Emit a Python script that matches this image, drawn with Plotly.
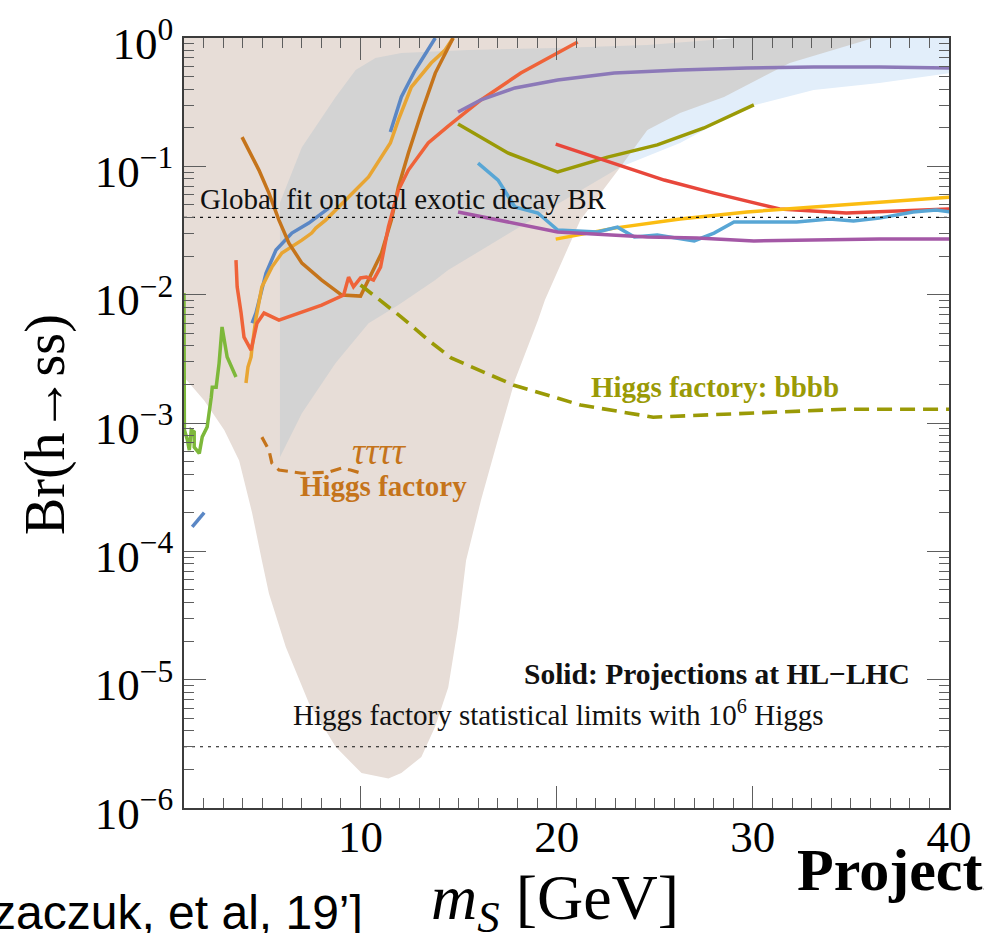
import plotly.graph_objects as go
import numpy as np

# ---------------- data: exclusion / projection curves, Br(h -> ss) vs m_S [GeV] ----------------

# shaded theory regions
beige_x = [1.0, 1.0, 2.03, 3.05, 3.81, 4.47, 4.97, 5.33, 6.19, 7.36, 8.73, 10.05, 11.42, 12.08,
           13.1, 13.8, 14.47, 14.97, 15.38, 16.14, 17.0, 17.87, 19.04, 19.4, 21.2, 23.25, 26.1, 28.2]
beige_y = [1.0, 2.28e-3, 1.5e-3, 8.8e-4, 5.1e-4, 2.0e-4, 8.5e-5, 4.7e-5, 1.8e-5, 6.6e-6, 3.0e-6,
           1.87e-6, 1.7e-6, 1.87e-6, 2.5e-6, 4.3e-6, 8.7e-6, 2.57e-5, 8.5e-5, 2.5e-4, 7.4e-4,
           2.15e-3, 6.3e-3, 9.1e-3, 3.8e-2, 9.9e-2, 0.33, 1.0]

lightblue_x = [23.25, 26.29, 29.70, 33.1, 36.45, 40.1, 40.1, 34.77, 27.16, 24.11]
lightblue_y = [0.0988, 0.152, 0.29, 0.393, 0.446, 0.534, 1.0, 1.0, 0.471, 0.16]

gray_x = [5.89, 5.89, 7.01, 8.73, 9.75, 10.76, 12.08, 15.48, 20.05, 24.62, 29.19, 36.14, 31.88,
          28.53, 26.29, 24.62, 23.25, 20.05, 14.47, 13.81, 11.93, 10.41, 8.73, 7.01]
gray_y = [5.4e-4, 5.2e-2, 0.141, 0.347, 0.563, 0.698, 0.764, 0.806, 0.836, 0.882, 1.0, 1.0, 0.638,
          0.347, 0.26, 0.192, 0.0988, 0.0508, 0.01555, 0.013, 8.3e-3, 6.0e-3, 2.93e-3, 1.19e-3]

# solid HL-LHC projections
green_x = [1.0, 1.02, 1.17, 1.27, 1.37, 1.52, 1.52, 1.78, 1.93, 2.18, 2.39, 2.44, 2.64, 2.79, 2.94, 3.20, 3.65]
green_y = [1.03e-2, 8.8e-4, 7.4e-4, 6.15e-4, 8.8e-4, 8.5e-4, 6.5e-4, 5.8e-4, 7.8e-4, 9.3e-4,
           1.59e-3, 1.9e-3, 1.9e-3, 2.93e-3, 5.6e-3, 3.27e-3, 2.28e-3]

blue_low_x = [1.42, 2.03]
blue_low_y = [1.55e-4, 2.0e-4]

blue_a_x = [4.47, 4.67, 5.18, 5.69, 6.50, 7.36, 8.38]
blue_a_y = [6.0e-3, 7.2e-3, 1.47e-2, 2.23e-2, 3.02e-2, 3.61e-2, 4.73e-2]

blue_b_x = [11.52, 12.08, 12.79, 13.45, 13.81]
blue_b_y = [0.185, 0.347, 0.563, 0.806, 1.0]

gold_x = [4.16, 4.26, 4.42, 4.47, 4.67, 4.97, 5.48, 5.99, 7.01, 7.51, 7.72, 8.22, 9.24, 10.41,
          11.52, 11.93, 12.59, 13.60, 14.31, 14.72]
gold_y = [2.05e-3, 2.73e-3, 3.27e-3, 3.9e-3, 6.57e-3, 1.15e-2, 1.64e-2, 2.11e-2, 2.66e-2, 3.02e-2,
          3.3e-2, 3.81e-2, 5.46e-2, 8.26e-2, 0.152, 0.23, 0.415, 0.638, 0.806, 1.0]

brown_x = [3.96, 4.82, 5.33, 5.84, 6.35, 7.01, 8.02, 9.04, 10.0, 10.56, 11.07, 11.57, 11.93,
           12.44, 13.1, 13.81, 14.47, 14.72]
brown_y = [0.169, 9.35e-2, 6.19e-2, 3.81e-2, 2.52e-2, 1.76e-2, 1.30e-2, 9.93e-3, 9.75e-3, 1.47e-2,
           2.11e-2, 3.81e-2, 6.9e-2, 0.127, 0.26, 0.533, 0.851, 1.0]

tomato_x = [3.65, 3.71, 3.91, 4.06, 4.42, 4.72, 5.08, 5.84, 8.02, 9.14, 9.39, 9.64, 10.0, 10.30,
            10.66, 11.02, 11.42, 11.93, 12.44, 13.45, 14.47, 16.14, 18.17, 20.05, 21.07]
tomato_y = [1.86e-2, 1.15e-2, 7.19e-3, 4.67e-3, 3.70e-3, 6.0e-3, 7.19e-3, 6.34e-3, 8.3e-3, 9.93e-3,
            1.37e-2, 1.15e-2, 1.35e-2, 1.37e-2, 1.30e-2, 1.64e-2, 3.37e-2, 6.53e-2, 9.35e-2, 0.152,
            0.206, 0.329, 0.533, 0.764, 0.93]

purple_x = [14.97, 16.14, 17.87, 20.05, 22.94, 26.29, 29.70, 33.1, 36.45, 40.1]
purple_y = [0.265, 0.329, 0.408, 0.471, 0.533, 0.563, 0.583, 0.594, 0.594, 0.583]

olive_x = [14.97, 17.51, 20.05, 22.59, 25.13, 27.51, 30.05]
olive_y = [0.214, 0.127, 0.0903, 0.118, 0.147, 0.199, 0.301]

red_x = [19.95, 22.94, 25.48, 28.02, 31.37, 34.77, 38.17, 40.1]
red_y = [0.149, 0.106, 0.0782, 0.0619, 0.0465, 0.0433, 0.0456, 0.0465]

yellow_x = [19.95, 22.94, 26.29, 29.70, 33.1, 36.45, 40.1]
yellow_y = [0.0271, 0.033, 0.0388, 0.0441, 0.0482, 0.0527, 0.0576]

sky_x = [15.99, 17.01, 17.87, 19.04, 20.05, 22.08, 23.10, 23.96, 25.13, 27.01, 28.02, 29.04,
         30.56, 32.23, 33.91, 35.13, 36.45, 38.17, 39.34, 40.1]
sky_y = [0.106, 0.0782, 0.0482, 0.0433, 0.0319, 0.0308, 0.0336, 0.0281, 0.0291, 0.0262, 0.0302,
         0.0368, 0.0368, 0.0368, 0.0388, 0.0375, 0.0395, 0.0441, 0.0456, 0.0441]

magenta_x = [14.97, 20.05, 24.62, 27.16, 30.05, 33.1, 36.45, 40.1]
magenta_y = [0.0441, 0.0308, 0.0281, 0.0276, 0.0262, 0.0267, 0.0271, 0.0271]

# Higgs factory projections (dashed)
bbbb_x = [10.0, 12.08, 13.45, 14.62, 17.82, 21.22, 24.92, 29.64, 34.67, 40.1]
bbbb_y = [1.19e-2, 6.69e-3, 4.43e-3, 3.21e-3, 1.97e-3, 1.38e-3, 1.11e-3, 1.19e-3, 1.28e-3, 1.28e-3]

tau_x = [4.97, 5.33, 5.48, 5.84, 7.01, 8.38, 9.04, 9.49, 10.05]
tau_y = [7.76e-4, 6.15e-4, 4.87e-4, 4.3e-4, 4.06e-4, 4.14e-4, 4.45e-4, 4.3e-4, 4.06e-4]

# reference levels
global_fit_br = 0.04
factory_stat_br = 3e-6

# axis ticks
x_major = [10, 20, 30, 40]
x_major_text = ["10", "20", "30", "40"]
y_major = [1e-6, 1e-5, 1e-4, 1e-3, 1e-2, 1e-1, 1e0]
y_major_text = ["10<sup>\u22126</sup>", "10<sup>\u22125</sup>", "10<sup>\u22124</sup>",
                "10<sup>\u22123</sup>", "10<sup>\u22122</sup>", "10<sup>\u22121</sup>", "10<sup>0</sup>"]

# ---------------- figure ----------------
SERIF = "Liberation Serif, Times New Roman, serif"
SANS = "Liberation Sans, Arial, sans-serif"
X0, X1 = 1.0, 40.0
LW = 3.5
TICK_COLOR = "#5e5e5e"

fig = go.Figure()


def region(x, y, color):
    fig.add_trace(go.Scatter(x=x + [x[0]], y=y + [y[0]], mode="lines", fill="toself",
                             fillcolor=color, line=dict(width=0, color=color),
                             hoverinfo="skip", showlegend=False))


def curve(x, y, color, width=LW, dash="solid"):
    fig.add_trace(go.Scatter(x=x, y=y, mode="lines",
                             line=dict(color=color, width=width, dash=dash),
                             hoverinfo="skip", showlegend=False))


region(beige_x, beige_y, "#e7ddd7")
region(lightblue_x, lightblue_y, "#e2eefa")
region(gray_x, gray_y, "#d3d3d3")

curve(green_x, green_y, "#7db83a")
curve(blue_low_x, blue_low_y, "#5a87c5")
curve(blue_a_x, blue_a_y, "#5a87c5")
curve(blue_b_x, blue_b_y, "#5a87c5")
curve(gold_x, gold_y, "#e8a533")
curve(brown_x, brown_y, "#c5741b")
curve(tomato_x, tomato_y, "#ef6339")
curve(purple_x, purple_y, "#8c79b8")
curve(olive_x, olive_y, "#9a9a06")
curve(red_x, red_y, "#e8473b")
curve(yellow_x, yellow_y, "#fbbd12")
curve(sky_x, sky_y, "#58a6d5")
curve(magenta_x, magenta_y, "#a458a6")

curve(bbbb_x, bbbb_y, "#9a9a06", width=3.6, dash="15px,8px")
curve(tau_x, tau_y, "#c5741b", width=3.2, dash="11px,7px")

for level in (global_fit_br, factory_stat_br):
    fig.add_trace(go.Scatter(x=[X0, X1], y=[level, level], mode="lines",
                             line=dict(color="#111111", width=1.1, dash="3px,5px"),
                             hoverinfo="skip", showlegend=False))

# ---------------- text inside the frame ----------------
def note(text, x, y, size, color="#111111", xanchor="left", family=SERIF):
    fig.add_annotation(x=x, y=np.log10(y), xref="x", yref="y", text=text, showarrow=False,
                       xanchor=xanchor, yanchor="middle",
                       font=dict(family=family, size=size, color=color))


note("Global fit on total exotic decay BR", 1.72, 0.056, 29)
note("Higgs factory statistical limits with 10<sup>6</sup> Higgs", 6.45, 5.5e-6, 29)
note("<b>Solid: Projections at HL\u2212LHC</b>", 38.1, 1.1e-5, 29.5, xanchor="right")
note("<b>Higgs factory: bbbb</b>", 21.65, 1.9e-3, 29, color="#9a9a06")
note("<i>\u03c4\u03c4\u03c4\u03c4</i>", 9.45, 6.0e-4, 37, color="#c5741b")
note("<b>Higgs factory</b>", 6.8, 3.25e-4, 29, color="#c5741b")

# ---------------- text around the frame (paper coordinates from page pixels) ----------------
PL, PR, PT, PB = 184, 955, 38, 808


def page_note(text, px, py, size, family=SERIF, xanchor="center", angle=0):
    fig.add_annotation(x=(px - PL) / (PR - PL), y=(PB - py) / (PB - PT), xref="paper", yref="paper",
                       text=text, showarrow=False, xanchor=xanchor, yanchor="middle",
                       textangle=angle, font=dict(family=family, size=size, color="#000000"))


page_note("Br(h\u2192ss)", 44, 425, 56, angle=-90)
page_note("zaczuk, et al, 19\u2019]", -12, 913, 48, family=SANS, xanchor="left")
page_note("<i>m</i><sub><i>S</i></sub> [GeV]", 558, 902, 64)
page_note("<b>Projections</b>", 800, 870, 60, xanchor="left")

# ---------------- axes ----------------
x_minor = [v for v in range(2, 40) if v not in x_major]
y_minor = [k * 10.0 ** e for e in range(-6, 0) for k in range(2, 10)]

label_font = dict(family=SERIF, size=45, color="#000000")

fig.update_layout(
    width=984, height=933, margin=dict(l=PL, r=984 - PR, t=PT, b=933 - PB),
    paper_bgcolor="white", plot_bgcolor="white", showlegend=False,
)
fig.update_xaxes(range=[X0, X1], tickmode="array", tickvals=x_major, ticktext=x_major_text,
                 ticks="inside", ticklen=22, tickwidth=1.3, tickcolor=TICK_COLOR,
                 minor=dict(tickvals=x_minor, ticks="inside", ticklen=10, tickwidth=1.3,
                            tickcolor=TICK_COLOR),
                 showline=True, linecolor="#3c3c3c", linewidth=1.6, mirror="allticks",
                 showgrid=False, zeroline=False, tickfont=label_font, ticklabelstandoff=-12)
fig.update_yaxes(type="log", range=[-6, 0], tickmode="array", tickvals=y_major, ticktext=y_major_text,
                 ticks="inside", ticklen=22, tickwidth=1.3, tickcolor=TICK_COLOR,
                 minor=dict(tickvals=y_minor, ticks="inside", ticklen=10, tickwidth=1.3,
                            tickcolor=TICK_COLOR),
                 showline=True, linecolor="#3c3c3c", linewidth=1.6, mirror="allticks",
                 showgrid=False, zeroline=False, tickfont=label_font, ticklabelshift=5)

fig.write_html("out.html")
